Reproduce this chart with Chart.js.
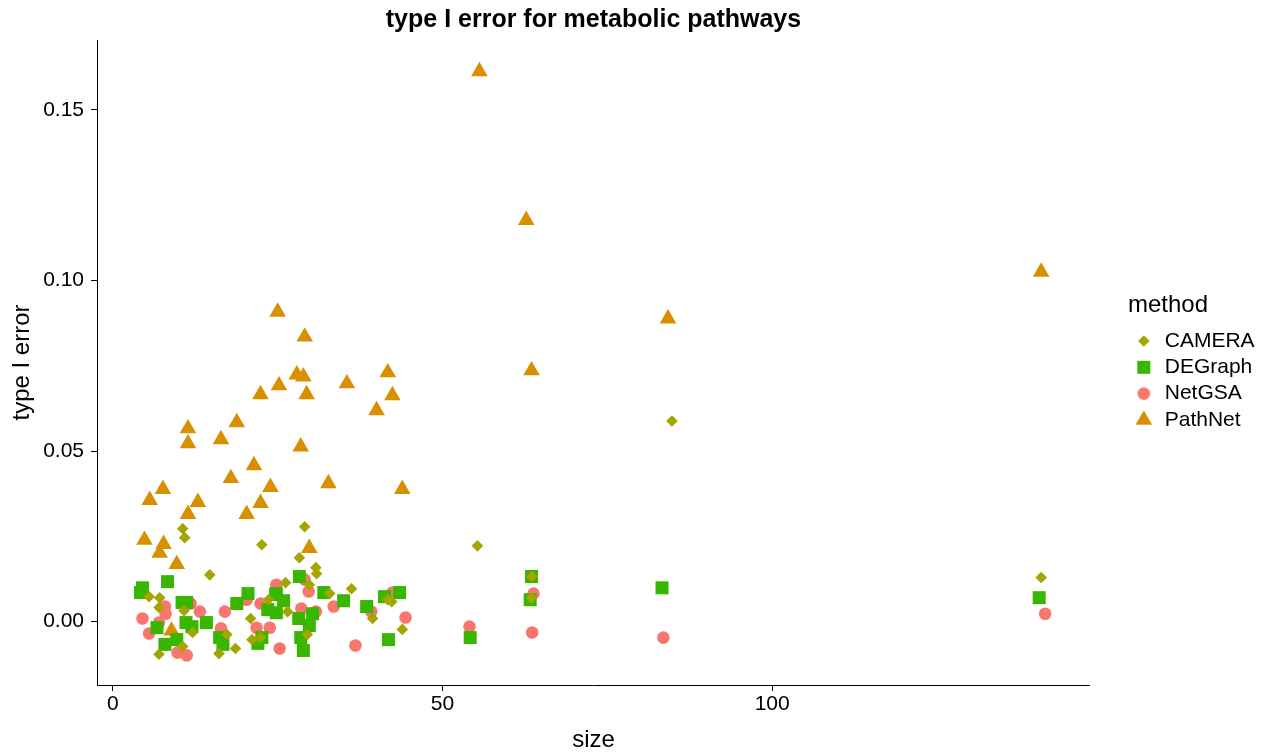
<!DOCTYPE html>
<html>
<head>
<meta charset="utf-8">
<script src="https://cdn.jsdelivr.net/npm/chart.js@4.4.1/dist/chart.umd.min.js"></script>
<style>
  html, body { margin: 0; padding: 0; background: #fff; }
  #wrap { width: 1270px; height: 753px; position: relative; }
</style>
</head>
<body>
<div id="wrap"><canvas id="chart"></canvas></div>
<script>
// legend order and colours (ggplot hue palette)
const methods = ['CAMERA', 'DEGraph', 'NetGSA', 'PathNet'];
const methodColors = ['#A3A500', '#39B600', '#F8766D', '#D89000'];
const methodShapes = ['rectRot', 'rect', 'circle', 'triangle'];
const xTicks = [0, 50, 100];
const yTicks = [0.00, 0.05, 0.10, 0.15];

// pathway size vs type I error
const cameraSize = [10.6, 10.9, 22.6, 14.7, 5.5, 7.1, 7.0, 10.8, 23.6, 20.9, 12.1, 17.3, 21.1, 22.4, 10.6, 18.6, 16.1, 7.0,
  29.1, 28.3, 30.8, 30.9, 26.2, 29.8, 36.2, 32.9, 41.7, 42.3, 26.5, 39.4, 43.9, 29.5, 55.3, 63.6, 63.5, 84.8, 140.8];
const cameraError = [0.0272, 0.0246, 0.0225, 0.0137, 0.0073, 0.0070, 0.0041, 0.0032, 0.0064, 0.0009, -0.0032, -0.0038, -0.0053, -0.0047, -0.0073, -0.0079, -0.0094, -0.0096,
  0.0278, 0.0187, 0.0158, 0.0140, 0.0114, 0.0108, 0.0096, 0.0082, 0.0064, 0.0058, 0.0029, 0.0009, -0.0023, -0.0038, 0.0222, 0.0132, 0.0070, 0.0588, 0.0129];

const degraphSize = [4.5, 4.2, 8.3, 10.5, 11.2, 20.5, 18.8, 24.8, 23.5, 24.8, 11.1, 12.0, 14.2, 6.7, 9.7, 7.9, 16.2, 16.7, 22.6, 22.0,
  28.3, 32.0, 24.7, 25.9, 35.0, 38.5, 41.2, 43.5, 28.2, 30.3, 29.8, 28.5, 28.9, 41.8, 63.5, 63.3, 54.2, 83.3, 140.5];
const degraphError = [0.0099, 0.0085, 0.0117, 0.0056, 0.0056, 0.0082, 0.0053, 0.0082, 0.0035, 0.0026, -0.0003, -0.0015, -0.0003, -0.0018, -0.0053, -0.0067, -0.0047, -0.0067, -0.0047, -0.0064,
  0.0132, 0.0085, 0.0079, 0.0061, 0.0061, 0.0044, 0.0073, 0.0085, 0.0009, 0.0023, -0.0012, -0.0047, -0.0085, -0.0053, 0.0132, 0.0064, -0.0047, 0.0099, 0.0070];

const netgsaSize = [4.5, 5.5, 7.9, 8.0, 7.0, 11.8, 13.2, 17.0, 24.8, 22.4, 20.3, 21.8, 23.8, 16.4, 9.8, 11.2, 25.3,
  29.1, 29.7, 28.6, 30.8, 33.5, 39.2, 42.4, 44.4, 36.8, 63.8, 54.1, 63.6, 83.5, 141.4];
const netgsaError = [0.0009, -0.0035, 0.0044, 0.0023, -0.0003, 0.0053, 0.0029, 0.0029, 0.0108, 0.0053, 0.0064, -0.0018, -0.0018, -0.0020, -0.0091, -0.0099, -0.0079,
  0.0123, 0.0088, 0.0038, 0.0029, 0.0044, 0.0029, 0.0085, 0.0012, -0.0070, 0.0082, -0.0015, -0.0032, -0.0047, 0.0023];

const pathnetSize = [55.6, 62.7, 140.8, 84.2, 63.5, 25.0, 29.1, 27.9, 28.9, 25.2, 29.4, 22.4, 35.5, 41.7, 42.4, 40.0, 28.5, 32.7, 43.9,
  18.8, 16.4, 21.4, 17.9, 23.9, 22.4, 20.3, 11.4, 11.4, 11.4, 12.9, 7.6, 5.6, 4.8, 7.7, 7.1, 9.7, 29.8, 8.9];
const pathnetError = [0.1613, 0.1177, 0.1025, 0.0888, 0.0736, 0.0908, 0.0835, 0.0724, 0.0718, 0.0692, 0.0666, 0.0666, 0.0698, 0.0730, 0.0663, 0.0619, 0.0513, 0.0405, 0.0388,
  0.0584, 0.0534, 0.0458, 0.0420, 0.0394, 0.0347, 0.0315, 0.0566, 0.0522, 0.0315, 0.0350, 0.0388, 0.0356, 0.0239, 0.0227, 0.0201, 0.0168, 0.0215, -0.0027];

const sizes = [cameraSize, degraphSize, netgsaSize, pathnetSize];
const errors = [cameraError, degraphError, netgsaError, pathnetError];
const pointRadii = [5.8, 9.2, 6.3, 9.6];

const toPoints = (xs, ys) => xs.map((x, i) => ({ x: x, y: ys[i] }));

// legend keys drawn at the same size as the plotted points
function makeMarker(style, radius, color) {
  const size = Math.ceil(radius * 2) + 2;
  const c = document.createElement('canvas');
  c.width = size;
  c.height = size;
  const ctx = c.getContext('2d');
  ctx.fillStyle = color;
  Chart.helpers.drawPoint(ctx, { pointStyle: style, radius: radius, borderWidth: 0, rotation: 0 }, size / 2, size / 2);
  return c;
}
const legendMarkers = methods.map((m, i) => makeMarker(methodShapes[i], pointRadii[i], methodColors[i]));

const datasets = methods.map((name, i) => ({
  label: name,
  data: toPoints(sizes[i], errors[i]),
  pointStyle: methodShapes[i],
  pointRadius: pointRadii[i],
  pointHoverRadius: pointRadii[i],
  backgroundColor: methodColors[i],
  borderColor: methodColors[i],
  borderWidth: 0,
  pointBorderWidth: 0
}));

Chart.defaults.font.family = '"Liberation Sans", Arial, Helvetica, sans-serif';
Chart.defaults.color = '#000';

new Chart(document.getElementById('chart'), {
  type: 'scatter',
  data: { datasets: datasets },
  options: {
    responsive: true,
    maintainAspectRatio: false,
    animation: false,
    layout: { padding: { left: 0, right: 5.4, top: 0, bottom: 0 } },
    plugins: {
      tooltip: { enabled: false },
      title: {
        display: true,
        text: 'type I error for metabolic pathways',
        fullSize: false,
        color: '#000',
        font: { size: 25, weight: 'bold', lineHeight: 1.2 },
        padding: { top: 5, bottom: 5 }
      },
      legend: {
        position: 'right',
        align: 'center',
        fullSize: false,
        title: {
          display: true,
          text: 'method',
          position: 'start',
          color: '#000',
          font: { size: 24, lineHeight: 1.2 },
          padding: { top: 3.7, bottom: 3.4 }
        },
        labels: {
          usePointStyle: true,
          boxWidth: 21,
          boxHeight: 10,
          padding: 5.3,
          color: '#000',
          font: { size: 21 },
          generateLabels: chart => Chart.defaults.plugins.legend.labels.generateLabels(chart)
            .map(item => Object.assign(item, { pointStyle: legendMarkers[item.datasetIndex] }))
        }
      }
    },
    scales: {
      x: {
        type: 'linear',
        min: -2.4,
        max: 148.2,
        afterFit: s => { s.height = 68; },
        afterBuildTicks: s => { s.ticks = xTicks.map(v => ({ value: v })); },
        grid: { display: true, drawOnChartArea: false, drawTicks: true, tickLength: 6, color: '#000', lineWidth: 1 },
        border: { display: true, color: '#000', width: 1 },
        ticks: { font: { size: 21 }, color: '#000', padding: 1, maxRotation: 0 },
        title: { display: true, text: 'size', color: '#000', font: { size: 24, lineHeight: 1 }, padding: { top: 0, bottom: 1 } }
      },
      y: {
        type: 'linear',
        min: -0.0186,
        max: 0.1705,
        afterFit: s => { s.width = 97; },
        afterBuildTicks: s => { s.ticks = yTicks.map(v => ({ value: v })); },
        grid: { display: true, drawOnChartArea: false, drawTicks: true, tickLength: 6, color: '#000', lineWidth: 1 },
        border: { display: true, color: '#000', width: 1 },
        ticks: { font: { size: 21 }, color: '#000', padding: 7, callback: v => v.toFixed(2) },
        title: { display: true, text: 'type I error', color: '#000', font: { size: 24, lineHeight: 1 }, padding: { top: 10, bottom: 0 } }
      },
      // empty spacer between the panel and the legend
      pad: {
        type: 'linear',
        position: 'right',
        display: true,
        afterFit: s => { s.width = 38; },
        grid: { display: false },
        border: { display: false },
        ticks: { display: false }
      }
    }
  }
});
</script>
</body>
</html>
